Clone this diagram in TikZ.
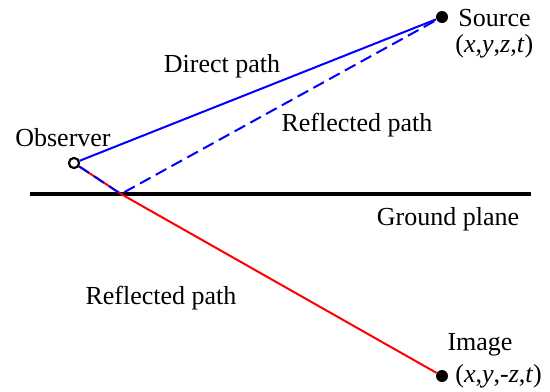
\documentclass[tikz,border=0pt]{standalone}
\usepackage{fontspec}
\setmainfont{Liberation Serif}
\newfontfamily\tmsfont{Liberation Serif}
\begin{document}
\begin{tikzpicture}[x=0.5pt,y=-0.5pt,
  lbl/.style={font=\tmsfont\fontsize{13}{15}\selectfont, inner sep=0pt},
  dot/.style={circle, fill=black, inner sep=0pt, minimum size=6pt},
  obs/.style={circle, draw=black, line width=1pt, fill=white, inner sep=0pt, minimum size=5pt},
  directpath/.style={blue, line width=1pt},
  reflpath/.style={blue, line width=1pt, dash pattern=on 6pt off 3pt},
  imgpath/.style={red, line width=1pt},
  groundline/.style={black, line width=2pt}]
\useasboundingbox (0,0) rectangle (550,391);
\coordinate (gl) at (30,194);
\coordinate (gr) at (531,194);
\coordinate (R) at (121,194);
\draw[groundline] (gl) -- (gr);
\node[dot] (S) at (442,17) {};
\node[dot] (I) at (442,376) {};
\node[obs] (O) at (74,163) {};
\draw[imgpath] (O) -- (R) -- (I);
\draw[reflpath] (O) -- (R) -- (S);
\draw[directpath] (O) -- (S);
\node[obs] at (O) {};
\node[lbl, anchor=west] (st) at (458,18) {Source};
\node[lbl, anchor=west] (sc) at (455,46) {(\textit{x},\textit{y},\textit{z},\textit{t})};
\node[lbl] (it) at (480,345) {Image};
\node[lbl, anchor=west] (ic) at (455,376) {(\textit{x},\textit{y},-\textit{z},\textit{t})};
\node[lbl] (ot) at (63,138) {Observer};
\node[lbl] (dp) at (222,66) {Direct path};
\node[lbl] (rp1) at (357,125) {Reflected path};
\node[lbl] (gp) at (448,219) {Ground plane};
\node[lbl] (rp2) at (161,298) {Reflected path};
\end{tikzpicture}
\end{document}
